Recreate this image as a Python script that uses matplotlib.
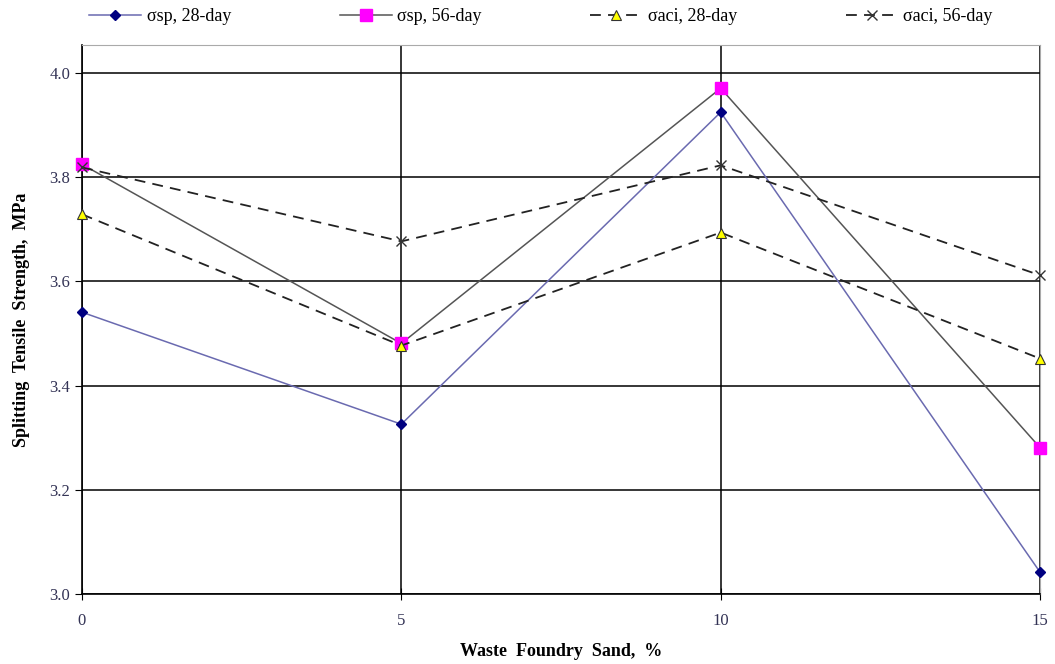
import numpy as np
import matplotlib.pyplot as plt

plt.rcParams['font.family'] = ['Liberation Serif', 'DejaVu Serif']

wfs = [0, 5, 10, 15]
sp_28 = [3.541, 3.326, 3.925, 3.042]
sp_56 = [3.825, 3.481, 3.971, 3.281]
aci_28 = [3.729, 3.477, 3.694, 3.452]
aci_56 = [3.819, 3.677, 3.823, 3.612]

labels = ["σsp, 28-day", "σsp, 56-day", "σaci, 28-day", "σaci, 56-day"]

fig = plt.figure(figsize=(10.55, 6.64), dpi=100)
ax = fig.add_axes([0.0777, 0.1054, 0.9081, 0.8268])

ax.plot(wfs, sp_28, "-", color="#6a6ab0", lw=1.1, marker="D", ms=5.5,
        mfc="#000080", mec="#000080", label=labels[0], clip_on=False, zorder=4)
ax.plot(wfs, sp_56, "-", color="#555555", lw=1.1, marker="s", ms=8,
        mfc="#ff00ff", mec="#ff00ff", label=labels[1], clip_on=False, zorder=4)
ax.plot(wfs, aci_28, "--", color="#222222", lw=1.3, dashes=(6, 4), marker="^", ms=7,
        mfc="#ffff00", mec="#333333", mew=0.8, label=labels[2], clip_on=False, zorder=4)
ax.plot(wfs, aci_56, "--", color="#222222", lw=1.3, dashes=(6, 4), marker="x", ms=7,
        mec="#333333", mew=1.0, label=labels[3], clip_on=False, zorder=4)

ax.set_xlim(0, 15)
ax.set_ylim(3.0, 4.054)
ax.set_xticks([0, 5, 10, 15])
ax.set_yticks(np.arange(3.0, 4.01, 0.2))
ax.set_yticklabels([f"{v:.1f}" for v in np.arange(3.0, 4.01, 0.2)])
ax.grid(True, color="black", lw=1.1)
ax.set_axisbelow(True)
ax.tick_params(axis="x", direction="inout", length=8, labelsize=12, pad=10, colors="black")
ax.tick_params(axis="y", direction="out", length=5, labelsize=12, colors="black")
for lbl in ax.get_xticklabels() + ax.get_yticklabels():
    lbl.set_color("#333355")

ax.spines["left"].set_color("black")
ax.spines["bottom"].set_color("black")
ax.spines["left"].set_linewidth(1.2)
ax.spines["bottom"].set_linewidth(1.2)
ax.spines["top"].set_color("#aaaaaa")
ax.spines["right"].set_color("#aaaaaa")

ax.set_xlabel("Waste  Foundry  Sand,  %", fontsize=13, fontweight="bold", labelpad=10)
ax.set_ylabel("Splitting  Tensile  Strength,  MPa", fontsize=13, fontweight="bold", labelpad=14)

fig.legend(loc="upper left", bbox_to_anchor=(0.069, 1.012), ncol=4, frameon=False,
           fontsize=13, handlelength=2.9, columnspacing=6.0, handletextpad=0.3)

fig.savefig("out.png", dpi=100)
